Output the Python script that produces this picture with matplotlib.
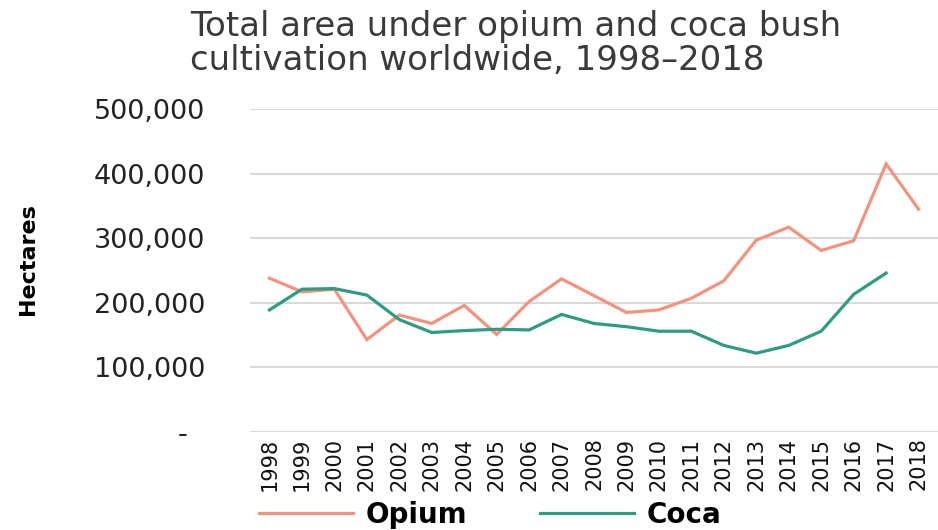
import matplotlib
matplotlib.use("Agg")
import matplotlib.pyplot as plt
from matplotlib.ticker import FuncFormatter

years = [str(y) for y in range(1998, 2019)]
opium = [238000, 217000, 221000, 143000, 181000, 168000, 196000, 151000, 202000,
         237000, 211000, 185000, 189000, 207000, 234000, 297000, 317000, 281000,
         296000, 415000, 345000]
coca = [189000, 221000, 222000, 212000, 174000, 154000, 157000, 159000, 158000,
        182000, 168000, 163000, 156000, 156000, 134000, 122000, 134000, 156000,
        213000, 246000, None]

opium_color = '#F4937D'
coca_color = '#2C9C84'

fig = plt.figure(figsize=(9.38, 5.30), dpi=100)
ax = fig.add_axes([250/938, 1 - 432/530, 688/938, 323/530])

x = list(range(len(years)))
ax.plot(x, opium, color=opium_color, lw=2.3, label='Opium', solid_joinstyle='miter')
ax.plot(x[:-1], coca[:-1], color=coca_color, lw=2.3, label='Coca', solid_joinstyle='miter')

ax.set_xlim(-0.6, 20.6)
ax.set_ylim(0, 500000)
ax.set_yticks(range(0, 500001, 100000))
ax.yaxis.set_major_formatter(FuncFormatter(lambda v, p: '-  ' if v == 0 else f'{int(v):,}'))
ax.set_xticks(x)
ax.set_xticklabels(years, rotation=90, fontsize=15, color='#111111')
for lbl in ax.get_yticklabels():
    lbl.set_fontsize(19.5)
    lbl.set_color('#222222')
ax.tick_params(axis='y', length=0, pad=32)
ax.tick_params(axis='x', length=0, pad=4)
ax.grid(axis='y', color='#d9d9d9', lw=1.5)
ax.set_axisbelow(True)
for s in ax.spines.values():
    s.set_visible(False)

fig.text(28/938, 1 - 259/530, 'Hectares', rotation=90, ha='center', va='center',
         fontsize=16, fontweight='bold', family=['Liberation Sans Narrow', 'DejaVu Sans'])

fig.text(190/938, 1 - 10/530, 'Total area under opium and coca bush\ncultivation worldwide, 1998\u20132018',
         ha='left', va='top', fontsize=24.5, color='#3a3a3a', linespacing=1.05)

fig.legend(loc='center left', bbox_to_anchor=(259/938, 1 - 515/530), ncol=2, frameon=False,
           prop={'size': 20, 'weight': 'bold'}, handlelength=3.4, handletextpad=0.45,
           columnspacing=2.6, borderpad=0, borderaxespad=0)

fig.savefig('out.png', dpi=100)
